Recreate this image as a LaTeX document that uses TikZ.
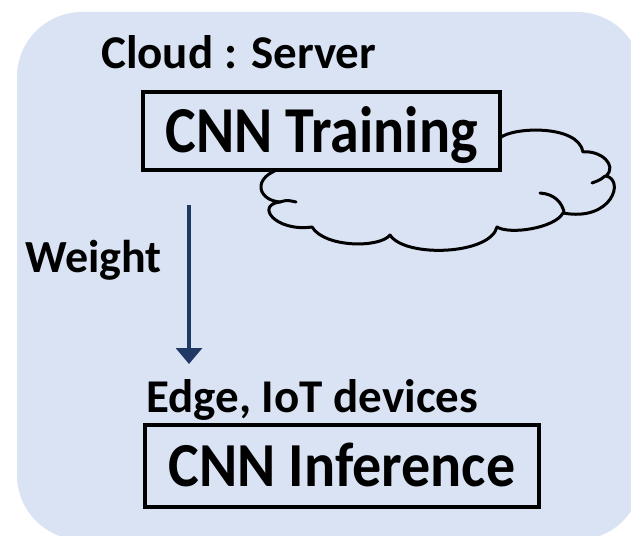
\documentclass[tikz,border=0pt]{standalone}
\usepackage{fontspec}
\setmainfont{Carlito}
\usetikzlibrary{arrows.meta}
\definecolor{bgblue}{HTML}{DAE3F3}
\definecolor{arrownavy}{HTML}{203864}
\tikzset{
  lbl/.style={inner sep=0pt, anchor=base west, font=\fontsize{47}{50}\selectfont\bfseries},
  bigbox/.style={draw=black, line width=3.2pt, fill=bgblue, inner sep=0pt,
    text depth=0pt, font=\fontsize{58}{60}\selectfont\bfseries},
  cloudline/.style={draw=black, line width=3pt, line cap=round, line join=round},
  flow/.style={draw=arrownavy, line width=3.3pt, -{Triangle[width=26pt,length=16pt]}}
}
\begin{document}
\begin{tikzpicture}[x=1pt, y=-1pt]
\useasboundingbox (0,0) rectangle (631,535);
\clip (0,0) rectangle (631,535);
% background panel
\fill[bgblue, rounded corners=65pt] (17,12) rectangle (642,540);
% cloud
\path[cloudline]
  (500,138) .. controls (512,127) and (578,124) .. (583,152)
  .. controls (600,150) and (618,165) .. (606,176)
  .. controls (625,180) and (612,222) .. (563,213)
  .. controls (555,228) and (510,235) .. (497,227)
  .. controls (490,255) and (405,258) .. (390,235)
  .. controls (380,248) and (325,248) .. (312,227)
  .. controls (275,232) and (255,205) .. (280,202)
  .. controls (255,200) and (250,172) .. (293,166)
  -- (480,140) -- cycle;
\path[cloudline] (605,176) .. controls (600,180) .. (592,183);
\path[cloudline] (540,193) .. controls (555,194) and (562,203) .. (564,212);
\path[cloudline] (280,202) .. controls (287,200) .. (296,202);
% boxes
\node[bigbox, text height=42pt, minimum width=357pt, minimum height=78pt] (train) at (321.5,131) {\scalebox{1}[1.13]{CNN Training}};
\node[bigbox, text height=40pt, minimum width=394pt, minimum height=82pt] (infer) at (342,466) {\scalebox{1}[1.08]{CNN Inference}};
% labels
\node[lbl] (cloudlbl) at (101,68) {Cloud : Server};
\node[lbl] (edgelbl) at (146,412) {Edge, IoT devices};
\node[lbl, font=\fontsize{46}{48}\selectfont\bfseries] (weightlbl) at (25,272) {Weight};
% arrow
\coordinate (wstart) at (189,205);
\coordinate (wend) at (189,364);
\draw[flow] (wstart) -- (wend);
\end{tikzpicture}
\end{document}
